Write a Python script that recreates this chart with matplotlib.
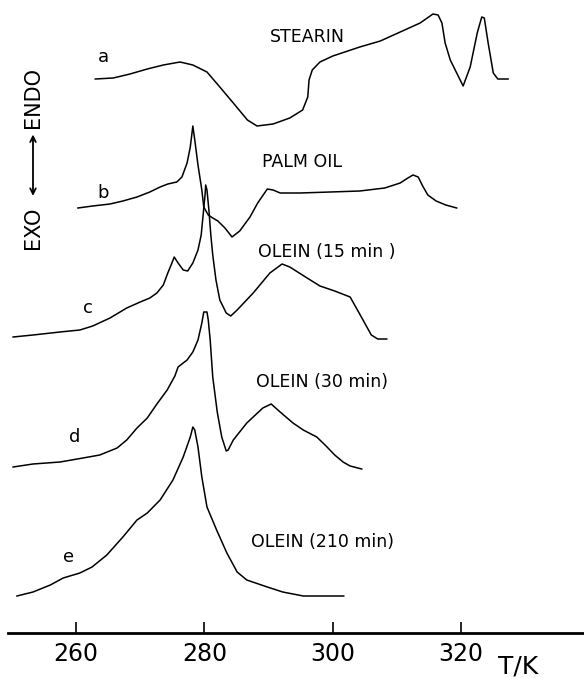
import matplotlib
matplotlib.use("Agg")
import matplotlib.pyplot as plt

# DSC curves: temperature (K) and signal (arbitrary units,
# relative to each curve's own starting baseline)
a_T = [263.0, 265.8, 268.4, 271.1, 273.6, 276.2, 278.2, 280.4, 282.4, 284.5,
       286.7, 288.2, 290.7, 293.3, 295.3, 296.1, 296.3, 296.8, 298.0, 300.0,
       304.2, 307.4, 310.5, 313.6, 315.6, 316.4, 317.0, 317.5, 318.3, 320.3,
       321.4, 322.5, 323.2, 323.6, 324.2, 325.0, 325.7, 327.3]
a_y = [0, 1, 5, 10, 14, 17, 14, 7, -8, -24,
       -41, -47, -45, -39, -31, -18, -1, 9, 17, 23,
       32, 38, 47, 56, 65, 64, 56, 36, 19, -7,
       12, 46, 62, 61, 36, 6, 0, 0]

b_T = [260.3, 262.6, 265.3, 267.3, 269.5, 271.5, 273.1, 274.3, 275.7, 276.5,
       277.3, 277.8, 278.2, 278.5, 279.0, 279.6, 279.9, 280.6, 281.3, 282.1,
       283.2, 284.3, 285.5, 287.1, 288.3, 289.8, 290.7, 291.8, 294.9, 299.6,
       304.2, 308.1, 310.5, 311.7, 312.5, 313.3, 314.0, 314.8, 316.1, 317.6, 319.3]
b_y = [0, 2, 4, 7, 11, 16, 21, 24, 26, 31,
       45, 61, 82, 68, 43, 18, 1, -7, -10, -13,
       -20, -29, -23, -9, 5, 19, 18, 15, 15, 16,
       17, 20, 25, 30, 33, 31, 22, 13, 7, 3, 0]

c_T = [250.2, 253.3, 257.5, 260.6, 262.6, 265.3, 267.9, 270.0, 271.5, 272.6,
       273.6, 274.3, 275.0, 275.3, 275.9, 276.7, 277.4, 278.2, 279.0, 279.5,
       279.8, 280.1, 280.2, 280.4, 280.7, 281.0, 281.3, 281.8, 282.4, 283.4,
       284.1, 285.1, 287.6, 290.2, 292.1, 293.3, 296.0, 298.0, 300.3, 302.7,
       304.1, 306.0, 307.0, 308.4]
c_y = [0, 2, 5, 7, 11, 19, 29, 35, 39, 44,
       52, 64, 75, 80, 74, 67, 66, 74, 87, 102,
       122, 142, 152, 147, 127, 102, 82, 57, 37, 24,
       21, 27, 44, 64, 73, 70, 59, 51, 46, 40,
       24, 2, -2, -2]

d_T = [250.2, 253.3, 257.5, 261.1, 263.7, 266.4, 267.9, 269.5, 271.1, 272.6,
       274.2, 275.4, 275.9, 277.3, 278.2, 279.0, 279.6, 279.9, 280.4, 280.6,
       280.9, 281.3, 282.0, 282.7, 283.4, 283.7, 284.5, 286.6, 289.1, 290.4,
       291.8, 293.8, 295.4, 297.5, 298.8, 300.3, 301.6, 302.7, 304.5]
d_y = [0, 3, 5, 9, 12, 19, 27, 39, 49, 63,
       77, 91, 100, 107, 115, 127, 144, 155, 155, 147,
       127, 90, 55, 30, 16, 17, 27, 44, 59, 63,
       55, 44, 37, 30, 22, 12, 5, 1, -2]

e_T = [250.8, 253.3, 256.0, 258.0, 260.6, 262.5, 264.8, 267.3, 269.5, 271.1,
       273.1, 275.1, 276.7, 277.8, 278.2, 278.5, 279.0, 279.6, 280.4, 281.9,
       283.5, 285.1, 286.6, 289.8, 292.2, 295.4, 301.7]
e_y = [0, 4, 11, 18, 23, 29, 41, 59, 76, 83,
       96, 116, 139, 159, 169, 166, 149, 119, 89, 66,
       43, 24, 16, 9, 4, 0, 0]

curve_T = [a_T, b_T, c_T, d_T, e_T]
curve_y = [a_y, b_y, c_y, d_y, e_y]
letters = ["a", "b", "c", "d", "e"]
names = ["STEARIN", "PALM OIL", "OLEIN (15 min )", "OLEIN (30 min)", "OLEIN (210 min)"]
ticks = [260, 280, 300, 320]

# vertical stacking of the curves
offsets = [553.7, 424.7, 295.7, 165.7, 36.7]
letter_pos = [(264.2, 575.7), (264.2, 439.7), (261.9, 324.7), (259.8, 195.7), (258.8, 75.7)]
name_pos = [(290.2, 595.7), (289.0, 470.7), (288.3, 380.7), (288.0, 250.7), (287.3, 90.7)]

fig = plt.figure(figsize=(5.84, 6.78), dpi=100)
ax = fig.add_axes([0, 0, 1, 1])

for T, y, off in zip(curve_T, curve_y, offsets):
    ax.plot(T, [v + off for v in y], color="black", lw=1.1)

for lab, (x, y) in zip(letters, letter_pos):
    ax.text(x, y, lab, fontsize=13, ha="center", va="center")
for nm, (x, y) in zip(names, name_pos):
    ax.text(x, y, nm, fontsize=12.5, ha="left", va="center")

# EXO <-> ENDO label
ax.text(253.3, 404.7, "EXO", rotation=90, fontsize=15, ha="center", va="center")
ax.text(253.3, 535.7, "ENDO", rotation=90, fontsize=15, ha="center", va="center")
ax.annotate("", xy=(253.3, 501), xytext=(253.3, 434),
            arrowprops=dict(arrowstyle="<->", color="black", lw=1.3))

ax.set_xlim(248.16, 339.13)
ax.set_ylim(-45.3, 632.7)
for s in ["left", "right", "top"]:
    ax.spines[s].set_visible(False)
ax.spines["bottom"].set_position(("data", 0))
ax.spines["bottom"].set_bounds(249.4, 339.13)
ax.spines["bottom"].set_linewidth(2)
ax.set_yticks([])
ax.set_xticks(ticks)
ax.tick_params(axis="x", direction="in", length=8, width=1.2, labelsize=17, pad=7)
ax.text(328.8, -34.3, "T/K", fontsize=18, ha="center", va="center")

fig.savefig("out.png", dpi=100)
